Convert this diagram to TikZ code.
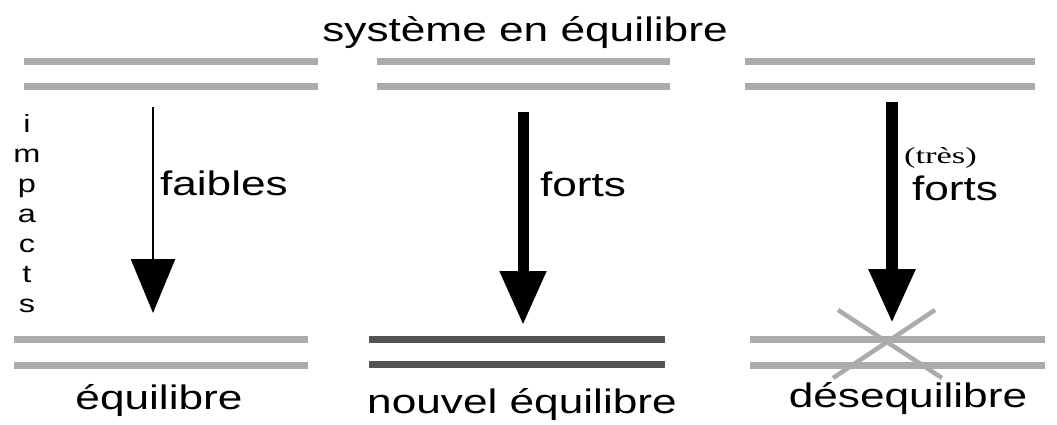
\documentclass[tikz,border=0pt]{standalone}
\usepackage{fontspec}
\setmainfont{Liberation Sans}[FakeStretch=1.3]
\newfontfamily\trestext{Liberation Serif}[FakeStretch=1.5]
\usetikzlibrary{arrows.meta}

\begin{document}
\begin{tikzpicture}[x=1pt,y=-1pt]

\useasboundingbox (0,0) rectangle (1057,425);

\tikzstyle{level}=[line width=7pt,black!33]
\tikzstyle{newlevel}=[line width=7pt,black!68]
\tikzstyle{label}=[inner sep=0pt,outer sep=0pt,anchor=base,font=\fontsize{34}{38}\selectfont]
\tikzstyle{impact}=[line width=#1,-{Triangle[width=44pt,length=54pt]}]

% niveaux du haut
\draw [level] (24,62) -- (318,62);
\draw [level] (24,87) -- (318,87);
\draw [level] (377,62) -- (670,62);
\draw [level] (377,87) -- (670,87);
\draw [level] (745,62) -- (1035,62);
\draw [level] (745,87) -- (1035,87);

\node (titre) [label] at (525,42) {système en équilibre};

% niveaux du bas
\draw [level] (14,339) -- (308,339);
\draw [level] (14,365) -- (308,365);
\draw [newlevel] (369,339) -- (665,339);
\draw [newlevel] (369,364) -- (665,364);
\draw [level] (750,339) -- (1045,339);
\draw [level] (750,365) -- (1045,365);

% croix
\draw [line width=4.5pt,black!33] (838,310) -- (942,378);
\draw [line width=4.5pt,black!33] (935,310) -- (833,378);

% impacts
\coordinate (haut1) at (153,107);
\coordinate (bas1) at (153,313);
\coordinate (haut2) at (523,112);
\coordinate (bas2) at (523,325);
\coordinate (haut3) at (892,102);
\coordinate (bas3) at (892,323);

\draw [impact=2.5pt] (haut1) -- (bas1);
\draw [impact=11pt] (haut2) -- (bas2);
\draw [impact=12pt] (haut3) -- (bas3);

\node (faibles) [label,anchor=base west] at (160,195) {faibles};
\node (forts) [label,anchor=base west] at (540,196) {forts};
\node (tres) [label,anchor=base west,font=\trestext\fontsize{23}{25}\selectfont] at (904,164) {(très)};
\node (tresforts) [label,anchor=base west] at (912,200) {forts};

\foreach \lettre [count=\i] in {i,m,p,a,c,t,s}
  \node (lettre\i) [label,font=\fontsize{25}{27}\selectfont] at (27,102+30*\i) {\lettre};

\node (eq) [label] at (159,409) {équilibre};
\node (neq) [label] at (522,413) {nouvel équilibre};
\node (deseq) [label] at (908,407) {désequilibre};

\end{tikzpicture}
\end{document}
